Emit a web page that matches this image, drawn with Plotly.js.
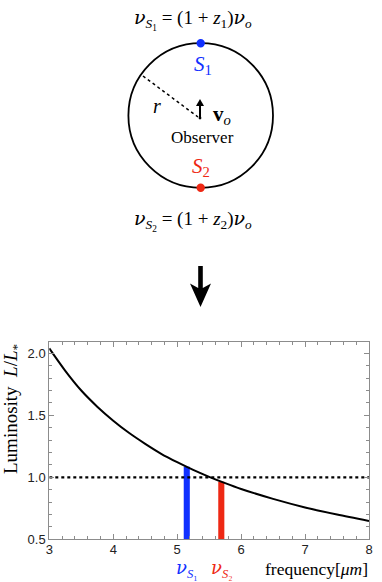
<!DOCTYPE html>
<html>
<head>
<meta charset="utf-8">
<script src="https://cdn.plot.ly/plotly-3.0.1.min.js"></script>
<style>
  body { margin: 0; background: #fff; }
  #myPlot { width: 382px; height: 582px; }
</style>
</head>
<body>
<div id="myPlot"></div>
<script>
// Luminosity curve
var freq = [3, 3.25, 3.5, 3.75, 4, 4.25, 4.5, 4.75, 5, 5.25, 5.5, 5.75, 6, 6.5, 7, 7.5, 8];
var lum = [2.04, 1.859, 1.70, 1.57, 1.457, 1.357, 1.27, 1.19, 1.122, 1.06, 1.004, 0.953, 0.906, 0.826, 0.757, 0.70, 0.648];

// the two observed sources
var srcNames = ["S1", "S2"];
var srcFreq = [5.15, 5.69];
var srcLum = [1.085, 0.965];
var srcColors = ["#1030ff", "#ee2814"];

var refLevel = 1.0;
var baseLevel = 0.5;

var serif = "Liberation Serif, DejaVu Serif, serif";
var sans = "Liberation Sans, Arial, sans-serif";
var frameCol = "#8c8c8c";
var NU = "<span style=\"font-family:'DejaVu Serif'\"><i>ν</i></span>";

var data = [];

// vertical bars for nu_S1, nu_S2
data.push({
  type: "bar",
  x: srcFreq,
  y: srcLum.map(function(v){ return v - baseLevel; }),
  base: baseLevel,
  width: 0.095,
  marker: {color: srcColors, line: {width: 0}},
  hoverinfo: "skip",
  xaxis: "x", yaxis: "y"
});

// dotted reference line L/L* = 1
data.push({
  type: "scatter", mode: "lines",
  x: [3, 8], y: [refLevel, refLevel],
  line: {color: "#000", width: 2.2, dash: "dot"},
  hoverinfo: "skip"
});

// luminosity curve
data.push({
  type: "scatter", mode: "lines",
  x: freq, y: lum,
  line: {color: "#000", width: 2, shape: "spline", smoothing: 0.8},
  hoverinfo: "skip"
});

// empty trace so the pixel-coordinate overlay axes exist
data.push({type: "scatter", x: [], y: [], xaxis: "x2", yaxis: "y2", hoverinfo: "skip"});

var W = 382, H = 582;

// top diagram (pixel coordinates on x2/y2)
var cx = 200.7, cy = 115.5, rad = 72.3;
var shapes = [
  {type: "circle", xref: "x2", yref: "y2", x0: cx - rad, x1: cx + rad, y0: cy - rad, y1: cy + rad,
   line: {color: "#000", width: 1.8}},
  {type: "line", xref: "x2", yref: "y2", x0: 143, y0: 76, x1: 198, y1: 117,
   line: {color: "#000", width: 1.5, dash: "dot"}},
  {type: "line", xref: "x2", yref: "y2", x0: 200, y0: 118, x1: 200, y1: 105,
   line: {color: "#000", width: 2}},
  {type: "path", xref: "x2", yref: "y2", path: "M196,106 L200,99 L204,106 Z",
   fillcolor: "#000", line: {width: 0}},
  {type: "circle", xref: "x2", yref: "y2", x0: 198.6, x1: 201.4, y0: 116.6, y1: 119.4,
   fillcolor: "#000", line: {width: 0}},
  {type: "circle", xref: "x2", yref: "y2", x0: cx - 4.2, x1: cx + 4.2, y0: cy - rad - 4.2, y1: cy - rad + 4.2,
   fillcolor: srcColors[0], line: {width: 0}},
  {type: "circle", xref: "x2", yref: "y2", x0: cx - 4.2, x1: cx + 4.2, y0: cy + rad - 4.2, y1: cy + rad + 4.2,
   fillcolor: srcColors[1], line: {width: 0}},
  // big down arrow
  {type: "path", xref: "x2", yref: "y2",
   path: "M198.2,266 L202.8,266 L202.8,288 L211,283.5 L200.5,307 L190,283.5 L198.2,288 Z",
   fillcolor: "#000", line: {width: 0}}
];

function ann(x, y, text, size, color, extra) {
  var a = {xref: "x2", yref: "y2", x: x, y: y, text: text, showarrow: false,
    font: {family: serif, size: size, color: color || "#000"}, xanchor: "center", yanchor: "middle"};
  for (var k in extra) a[k] = extra[k];
  return a;
}

var annotations = [
  ann(193, 19, NU + "<sub><i>S</i><sub>1</sub></sub> = (1 + <i>z</i><sub>1</sub>)" + NU + "<sub><i>o</i></sub>", 19),
  ann(193, 220, NU + "<sub><i>S</i><sub>2</sub></sub> = (1 + <i>z</i><sub>2</sub>)" + NU + "<sub><i>o</i></sub>", 19),
  ann(203, 65, "<i>S</i><sub>1</sub>", 21, srcColors[0]),
  ann(201, 167, "<i>S</i><sub>2</sub>", 21, srcColors[1]),
  ann(157, 106, "<i>r</i>", 20),
  ann(222, 115, "<b>v</b><sub><i>o</i></sub>", 21),
  ann(202, 137, "Observer", 17),
  ann(12, 409, "Luminosity  <i>L</i>/<i>L</i><sub>*</sub>", 19, "#000", {textangle: -90}),
  ann(316, 569, "frequency[<i>μm</i>]", 17.5),
  ann(187, 569, NU + "<sub><i>S</i>₁</sub>", 18, srcColors[0]),
  ann(222, 569, NU + "<sub><i>S</i>₂</sub>", 18, srcColors[1])
];

var layout = {
  width: W, height: H,
  margin: {l: 0, r: 0, t: 0, b: 0},
  paper_bgcolor: "#fff",
  plot_bgcolor: "rgba(0,0,0,0)",
  showlegend: false,
  xaxis: {
    domain: [49.3 / W, 369 / W], range: [3, 8], anchor: "y",
    tickvals: [3, 4, 5, 6, 7, 8], ticktext: ["3", "4", "5", "6", "7", "8"],
    ticks: "inside", ticklen: 5, tickcolor: frameCol, tickwidth: 1,
    ticklabelstandoff: -2,
    minor: {ticks: "inside", dtick: 0.2, ticklen: 3, tickcolor: frameCol, showgrid: false},
    showline: true, linecolor: frameCol, linewidth: 1, mirror: "allticks",
    showgrid: false, zeroline: false, fixedrange: true,
    tickfont: {family: sans, size: 13, color: "#222"}
  },
  yaxis: {
    domain: [(H - 539.3) / H, (H - 341.7) / H], range: [0.5, 2.094], anchor: "x",
    tickvals: [0.5, 1.0, 1.5, 2.0], ticktext: ["0.5", "1.0", "1.5", "2.0"],
    ticks: "inside", ticklen: 5, tickcolor: frameCol, tickwidth: 1,
    minor: {ticks: "inside", dtick: 0.1, ticklen: 3, tickcolor: frameCol, showgrid: false},
    showline: true, linecolor: frameCol, linewidth: 1, mirror: "allticks",
    showgrid: false, zeroline: false, fixedrange: true,
    tickfont: {family: sans, size: 13, color: "#222"}
  },
  xaxis2: {domain: [0, 1], range: [0, W], anchor: "y2", visible: false, fixedrange: true},
  yaxis2: {domain: [0, 1], range: [H, 0], anchor: "x2", visible: false, fixedrange: true},
  shapes: shapes,
  annotations: annotations
};

Plotly.newPlot("myPlot", data, layout, {displayModeBar: false, staticPlot: true});
</script>
</body>
</html>
